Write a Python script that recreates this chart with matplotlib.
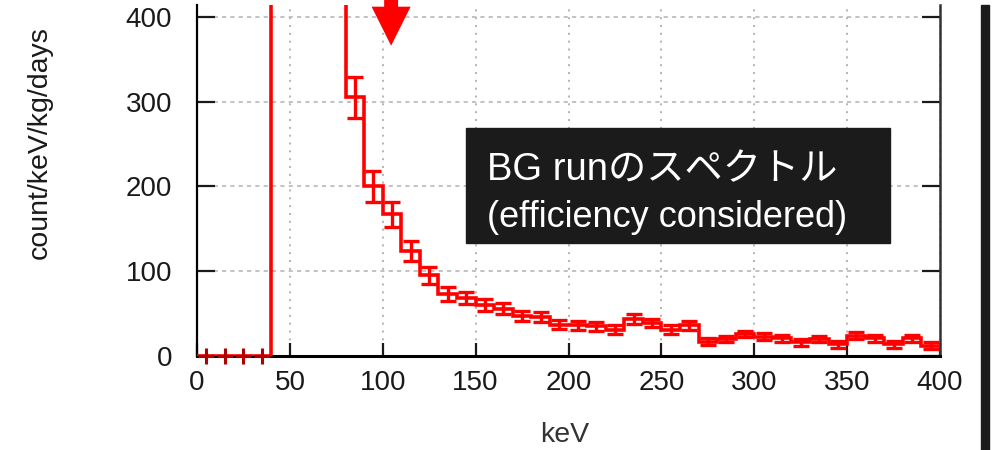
import matplotlib
matplotlib.use("Agg")
import matplotlib.pyplot as plt
from matplotlib.patches import Rectangle
import numpy as np

plt.rcParams['font.family'] = ['Liberation Sans', 'Noto Sans CJK JP', 'DejaVu Sans']

# bin centres (keV), 10 keV wide bins
energy_kev = [5, 15, 25, 35, 45, 55, 65, 75, 85, 95,
              105, 115, 125, 135, 145, 155, 165, 175, 185, 195,
              205, 215, 225, 235, 245, 255, 265, 275, 285, 295,
              305, 315, 325, 335, 345, 355, 365, 375, 385, 395]
# count/keV/kg/days (bins 40-80 keV are far off the top, estimated)
rate = [0, 0, 0, 0, 1500, 1200, 900, 600, 305, 200,
        167, 124, 95, 73, 68, 60, 56, 47, 46, 37,
        36, 35, 31, 44, 39, 31, 36, 17, 20, 26,
        23, 21, 16, 20, 14, 24, 21, 14, 21, 12]
rate_err = [0, 0, 0, 0, 60, 50, 40, 30, 24, 18,
            15, 12, 10, 8, 7, 7, 6, 6, 6, 5,
            5, 5, 5, 6, 5, 5, 5, 4, 4, 4,
            4, 4, 4, 4, 4, 4, 4, 4, 4, 4]
bin_width = 10
x_ticks = [0, 50, 100, 150, 200, 250, 300, 350, 400]
y_ticks = [0, 100, 200, 300, 400]
ARROW_KEV = 104.5

centres = np.array(energy_kev)
vals = np.array(rate)
errs = np.array(rate_err)
edges = np.append(centres - bin_width / 2, centres[-1] + bin_width / 2)

fig = plt.figure(figsize=(10, 4.5), dpi=100)
ax = fig.add_axes([0.197, 1 - 356 / 450, 0.743, 351 / 450])

red = '#ff0000'
ax.stairs(vals, edges, baseline=None, color=red, lw=2.6, zorder=3)
sel = vals > 0
ax.errorbar(centres[sel], vals[sel], yerr=errs[sel], fmt='none', ecolor=red,
            elinewidth=2.4, capsize=6, capthick=2.4, zorder=3)
ax.plot(centres[~sel], vals[~sel], '+', color='#b00000', ms=11, mew=2.2,
        clip_on=False, zorder=4)

ax.set_xlim(0, 400)
ax.set_ylim(0, 414)
ax.set_xticks(x_ticks)
ax.set_yticks(y_ticks)

ax.xaxis.grid(True, color='#a8a8a8', lw=1.2, linestyle=(0, (1.2, 3.5)))
ax.yaxis.grid(True, color='#b8b8b8', lw=1.2, linestyle=(0, (2.5, 2.5)))
ax.set_axisbelow(True)

ax.spines['top'].set_visible(False)
ax.spines['left'].set_linewidth(1.6)
ax.spines['bottom'].set_linewidth(2.2)
ax.spines['right'].set_linewidth(1.8)
ax.spines['right'].set_color('#333333')
ax.tick_params(axis='both', direction='in', right=True, top=False,
               labelsize=20, colors='#1a1a1a', width=1.6)
ax.tick_params(axis='y', length=13, pad=18)
ax.tick_params(axis='x', length=9.5, pad=10)

ax.set_xlabel('keV', fontsize=20.5, color='#333333')
ax.xaxis.set_label_coords(0.495, -0.225)
ax.xaxis.label.set_va('center')
ax.set_ylabel('count/keV/kg/days', fontsize=20.5, color='#1a1a1a')
ax.yaxis.set_label_coords(-0.211, 0.607)
ax.yaxis.label.set_va('center')

# red marker arrow above the plot
ax.arrow(ARROW_KEV, 426, 0, 366 - 426, width=7.5, head_width=21,
         head_length=46, length_includes_head=True, color=red, lw=0,
         clip_on=False, zorder=5)

# dark caption box
fig.patches.append(Rectangle((0.466, 1 - 243 / 450), 0.424, 115 / 450,
                             transform=fig.transFigure, color='#1b1b1b', zorder=5))
fig.text(0.487, 1 - 180 / 450, 'BG runのスペクトル', color='white', fontsize=27.5,
         va='baseline', ha='left', zorder=6)
fig.text(0.487, 1 - 227 / 450, '(efficiency considered)', color='white',
         fontsize=26, va='baseline', ha='left', zorder=6)

# black bar on the right edge
fig.patches.append(Rectangle((0.981, 0), 0.008, 1 - 5 / 450,
                             transform=fig.transFigure, color='#1b1b1b', zorder=5))

fig.savefig('out.png', dpi=100)
